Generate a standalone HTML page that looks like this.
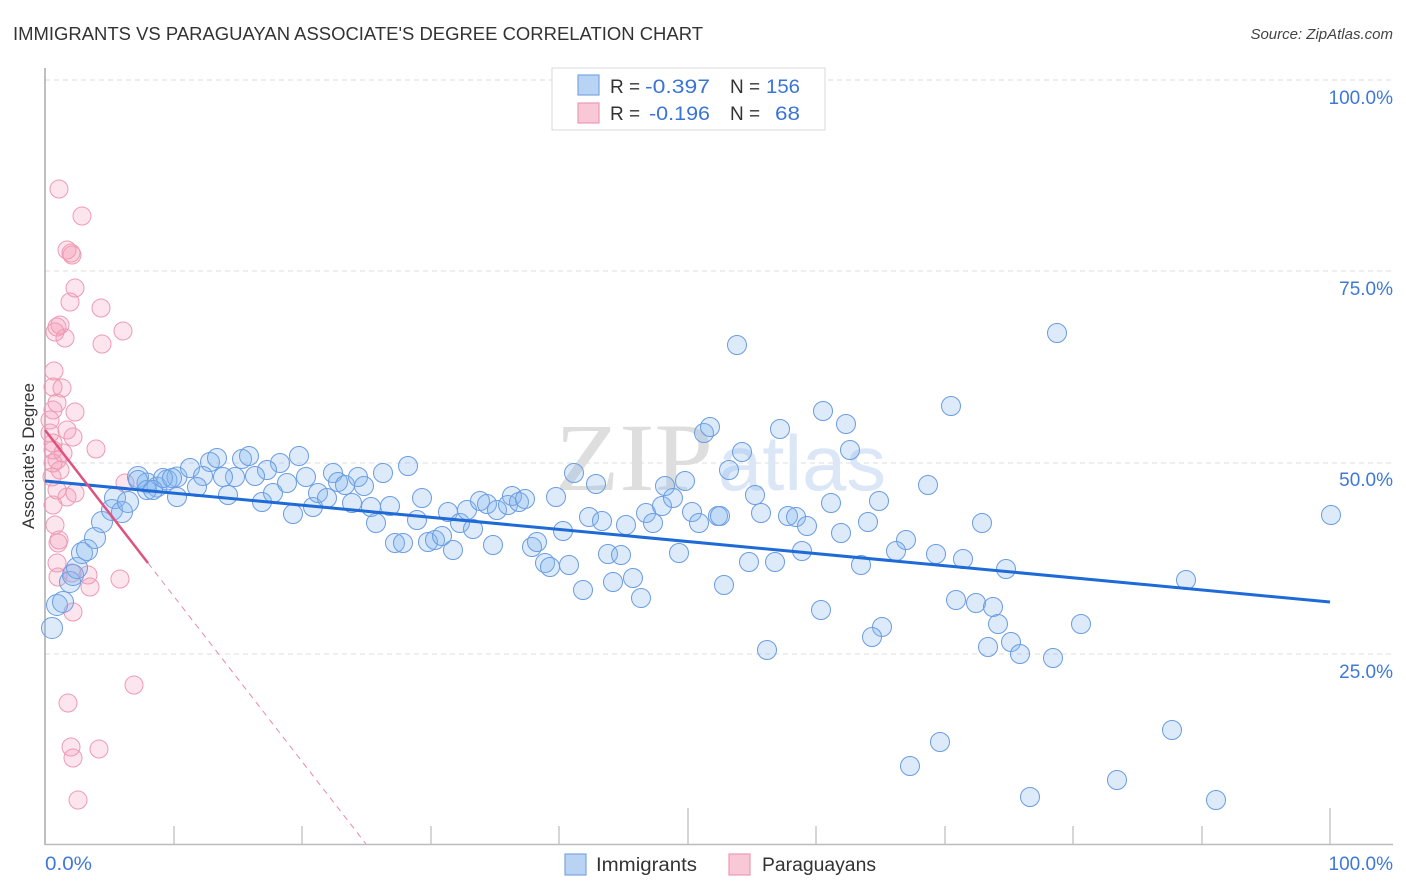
<!DOCTYPE html>
<html><head><meta charset="utf-8"><style>
html,body{margin:0;padding:0;background:#fff;}
svg{display:block;font-family:"Liberation Sans",sans-serif;}
</style></head><body>
<svg width="1406" height="892" viewBox="0 0 1406 892" xmlns="http://www.w3.org/2000/svg">
<rect width="1406" height="892" fill="#fff"/>
<text x="13" y="40" font-size="18" fill="#333" textLength="690" lengthAdjust="spacingAndGlyphs">IMMIGRANTS VS PARAGUAYAN ASSOCIATE'S DEGREE CORRELATION CHART</text>
<text x="1393" y="39" font-size="15" fill="#444" font-style="italic" text-anchor="end">Source: ZipAtlas.com</text>

<!-- gridlines -->
<g stroke="#dcdcdc" stroke-width="1" stroke-dasharray="5,4">
<line x1="45" y1="80" x2="1393" y2="80"/>
<line x1="45" y1="271" x2="1393" y2="271"/>
<line x1="45" y1="463" x2="1393" y2="463"/>
<line x1="45" y1="654" x2="1393" y2="654"/>
</g>
<!-- axes -->
<line x1="45" y1="68" x2="45" y2="845" stroke="#aaa" stroke-width="1.5"/>
<line x1="45" y1="844.5" x2="1393" y2="844.5" stroke="#bbb" stroke-width="1.5"/>
<g stroke="#bbb" stroke-width="1.2">
<line x1="174" y1="826" x2="174" y2="844"/>
<line x1="302" y1="826" x2="302" y2="844"/>
<line x1="431" y1="826" x2="431" y2="844"/>
<line x1="559" y1="826" x2="559" y2="844"/>
<line x1="688" y1="808" x2="688" y2="844"/>
<line x1="816" y1="826" x2="816" y2="844"/>
<line x1="945" y1="826" x2="945" y2="844"/>
<line x1="1073" y1="826" x2="1073" y2="844"/>
<line x1="1202" y1="826" x2="1202" y2="844"/>
<line x1="1330" y1="808" x2="1330" y2="844"/>
</g>

<!-- watermark -->
<text x="555" y="490" font-size="96" fill="#dedede" font-family="Liberation Serif, serif" textLength="158" lengthAdjust="spacingAndGlyphs">ZIP</text>
<text x="718" y="490" font-size="78" fill="#dbe6f6" font-family="Liberation Sans, sans-serif" textLength="168" lengthAdjust="spacingAndGlyphs">atlas</text>

<!-- y labels -->
<g font-size="19" fill="#3f78d8" text-anchor="end">
<text x="1393" y="104">100.0%</text>
<text x="1393" y="295">75.0%</text>
<text x="1393" y="486">50.0%</text>
<text x="1393" y="678">25.0%</text>
<text x="1393" y="870">100.0%</text>
</g>
<text x="45" y="870" font-size="19" fill="#3f78d8" textLength="47" lengthAdjust="spacingAndGlyphs">0.0%</text>
<text transform="translate(34,456) rotate(-90)" font-size="17" fill="#333" text-anchor="middle">Associate's Degree</text>

<!-- pink points -->
<g fill="rgba(244,150,180,0.25)" stroke="#ee9ab5" stroke-width="1">
<circle cx="59" cy="189" r="9"/><circle cx="82" cy="216" r="9"/><circle cx="67" cy="250" r="9"/><circle cx="71" cy="253" r="9"/><circle cx="72" cy="255" r="9"/>
<circle cx="75" cy="288" r="9"/><circle cx="70" cy="302" r="9"/><circle cx="101" cy="308" r="9"/><circle cx="57" cy="327" r="9"/><circle cx="60" cy="325" r="9"/>
<circle cx="55" cy="332" r="9"/><circle cx="65" cy="338" r="9"/><circle cx="123" cy="331" r="9"/><circle cx="102" cy="344" r="9"/><circle cx="54" cy="371" r="9"/>
<circle cx="62" cy="388" r="9"/><circle cx="53" cy="387" r="9"/><circle cx="57" cy="403" r="9"/><circle cx="75" cy="412" r="9"/><circle cx="53" cy="410" r="9"/>
<circle cx="67" cy="430" r="9"/><circle cx="73" cy="437" r="9"/><circle cx="50" cy="433" r="9"/><circle cx="53" cy="450" r="9"/><circle cx="57" cy="460" r="9"/>
<circle cx="96" cy="449" r="9"/><circle cx="53" cy="463" r="9"/><circle cx="63" cy="453" r="9"/><circle cx="52" cy="477" r="9"/><circle cx="57" cy="490" r="9"/>
<circle cx="67" cy="497" r="9"/><circle cx="75" cy="493" r="9"/><circle cx="53" cy="505" r="9"/><circle cx="55" cy="525" r="9"/><circle cx="59" cy="540" r="9"/>
<circle cx="58" cy="543" r="9"/><circle cx="57" cy="563" r="9"/><circle cx="58" cy="577" r="9"/><circle cx="72" cy="573" r="9"/><circle cx="88" cy="575" r="9"/>
<circle cx="90" cy="587" r="9"/><circle cx="73" cy="612" r="9"/><circle cx="120" cy="579" r="9"/><circle cx="125" cy="483" r="9"/><circle cx="68" cy="703" r="9"/>
<circle cx="71" cy="747" r="9"/><circle cx="73" cy="758" r="9"/><circle cx="99" cy="749" r="9"/><circle cx="78" cy="800" r="9"/><circle cx="134" cy="685" r="9"/>
<circle cx="53" cy="443" r="9"/><circle cx="50" cy="420" r="9"/><circle cx="60" cy="470" r="9"/>
</g>

<!-- blue points -->
<g fill="rgba(130,178,238,0.28)" stroke="#6b9de2" stroke-width="1">
<circle cx="52" cy="628" r="10.5"/><circle cx="57" cy="605" r="10.5"/><circle cx="63" cy="602" r="10.5"/><circle cx="70" cy="582" r="10.5"/><circle cx="73" cy="575" r="10.5"/>
<circle cx="77" cy="568" r="10.5"/><circle cx="82" cy="553" r="10.5"/><circle cx="87" cy="550" r="10.5"/><circle cx="95" cy="538" r="10.5"/><circle cx="102" cy="522" r="10.5"/>
<circle cx="112" cy="510" r="10.5"/><circle cx="115" cy="498" r="10.5"/><circle cx="122" cy="512" r="10.5"/><circle cx="128" cy="502" r="10.5"/><circle cx="138" cy="477" r="10.5"/>
<circle cx="147" cy="483" r="10"/><circle cx="157" cy="487" r="10"/><circle cx="167" cy="480" r="10"/><circle cx="177" cy="477" r="10"/>
<circle cx="138" cy="480" r="9.5"/><circle cx="163" cy="478" r="9.5"/><circle cx="172" cy="478" r="9.5"/><circle cx="190" cy="468" r="9.5"/><circle cx="210" cy="462" r="9.5"/>
<circle cx="217" cy="458" r="9.5"/><circle cx="242" cy="459" r="9.5"/><circle cx="249" cy="456" r="9.5"/><circle cx="299" cy="456" r="9.5"/><circle cx="280" cy="463" r="9.5"/>
<circle cx="267" cy="470" r="9.5"/><circle cx="255" cy="476" r="9.5"/><circle cx="235" cy="477" r="9.5"/><circle cx="223" cy="477" r="9.5"/><circle cx="203" cy="476" r="9.5"/>
<circle cx="197" cy="487" r="9.5"/><circle cx="177" cy="497" r="9.5"/><circle cx="228" cy="495" r="9.5"/><circle cx="262" cy="502" r="9.5"/><circle cx="273" cy="493" r="9.5"/>
<circle cx="287" cy="483" r="9.5"/><circle cx="306" cy="477" r="9.5"/><circle cx="293" cy="514" r="9.5"/><circle cx="313" cy="507" r="9.5"/><circle cx="318" cy="493" r="9.5"/>
<circle cx="327" cy="498" r="9.5"/><circle cx="333" cy="473" r="9.5"/><circle cx="338" cy="482" r="9.5"/><circle cx="345" cy="485" r="9.5"/><circle cx="358" cy="477" r="9.5"/>
<circle cx="364" cy="486" r="9.5"/><circle cx="383" cy="473" r="9.5"/><circle cx="408" cy="466" r="9.5"/><circle cx="352" cy="503" r="9.5"/><circle cx="371" cy="507" r="9.5"/>
<circle cx="376" cy="523" r="9.5"/><circle cx="390" cy="506" r="9.5"/><circle cx="422" cy="498" r="9.5"/><circle cx="417" cy="520" r="9.5"/><circle cx="395" cy="543" r="9.5"/>
<circle cx="403" cy="543" r="9.5"/><circle cx="428" cy="542" r="9.5"/><circle cx="435" cy="540" r="9.5"/><circle cx="442" cy="536" r="9.5"/><circle cx="453" cy="550" r="9.5"/>
<circle cx="448" cy="512" r="9.5"/><circle cx="460" cy="523" r="9.5"/><circle cx="467" cy="510" r="9.5"/><circle cx="473" cy="529" r="9.5"/><circle cx="480" cy="501" r="9.5"/>
<circle cx="487" cy="504" r="9.5"/><circle cx="497" cy="510" r="9.5"/><circle cx="493" cy="545" r="9.5"/><circle cx="147" cy="490" r="9.5"/><circle cx="153" cy="490" r="9.5"/>
<circle cx="508" cy="505" r="9.5"/><circle cx="512" cy="496" r="9.5"/><circle cx="519" cy="502" r="9.5"/><circle cx="525" cy="499" r="9.5"/>
<circle cx="556" cy="497" r="9.5"/><circle cx="574" cy="473" r="9.5"/><circle cx="596" cy="484" r="9.5"/><circle cx="589" cy="517" r="9.5"/><circle cx="602" cy="521" r="9.5"/>
<circle cx="626" cy="525" r="9.5"/><circle cx="646" cy="513" r="9.5"/><circle cx="653" cy="523" r="9.5"/><circle cx="662" cy="506" r="9.5"/><circle cx="665" cy="486" r="9.5"/>
<circle cx="673" cy="498" r="9.5"/><circle cx="685" cy="481" r="9.5"/><circle cx="704" cy="433" r="9.5"/><circle cx="710" cy="427" r="9.5"/><circle cx="692" cy="512" r="9.5"/>
<circle cx="699" cy="523" r="9.5"/><circle cx="718" cy="516" r="9.5"/><circle cx="729" cy="470" r="9.5"/><circle cx="742" cy="452" r="9.5"/><circle cx="780" cy="429" r="9.5"/>
<circle cx="846" cy="424" r="9.5"/><circle cx="850" cy="450" r="9.5"/><circle cx="755" cy="495" r="9.5"/><circle cx="761" cy="513" r="9.5"/><circle cx="788" cy="516" r="9.5"/>
<circle cx="796" cy="517" r="9.5"/><circle cx="807" cy="526" r="9.5"/><circle cx="831" cy="503" r="9.5"/><circle cx="841" cy="533" r="9.5"/><circle cx="868" cy="522" r="9.5"/>
<circle cx="879" cy="501" r="9.5"/><circle cx="532" cy="547" r="9.5"/><circle cx="537" cy="542" r="9.5"/><circle cx="545" cy="563" r="9.5"/><circle cx="550" cy="567" r="9.5"/>
<circle cx="569" cy="565" r="9.5"/><circle cx="583" cy="590" r="9.5"/><circle cx="608" cy="554" r="9.5"/><circle cx="621" cy="555" r="9.5"/><circle cx="633" cy="578" r="9.5"/>
<circle cx="613" cy="582" r="9.5"/><circle cx="641" cy="598" r="9.5"/><circle cx="679" cy="553" r="9.5"/><circle cx="563" cy="531" r="9.5"/><circle cx="724" cy="585" r="9.5"/>
<circle cx="749" cy="562" r="9.5"/><circle cx="775" cy="562" r="9.5"/><circle cx="802" cy="551" r="9.5"/><circle cx="821" cy="610" r="9.5"/><circle cx="861" cy="565" r="9.5"/>
<circle cx="737" cy="345" r="9.5"/><circle cx="823" cy="411" r="9.5"/><circle cx="1057" cy="333" r="9.5"/><circle cx="951" cy="406" r="9.5"/><circle cx="928" cy="485" r="9.5"/>
<circle cx="906" cy="540" r="9.5"/><circle cx="896" cy="551" r="9.5"/><circle cx="936" cy="554" r="9.5"/><circle cx="963" cy="559" r="9.5"/><circle cx="982" cy="523" r="9.5"/>
<circle cx="1006" cy="569" r="9.5"/><circle cx="956" cy="600" r="9.5"/><circle cx="976" cy="603" r="9.5"/><circle cx="993" cy="607" r="9.5"/><circle cx="998" cy="624" r="9.5"/>
<circle cx="882" cy="627" r="9.5"/><circle cx="872" cy="637" r="9.5"/><circle cx="1081" cy="624" r="9.5"/><circle cx="767" cy="650" r="9.5"/><circle cx="988" cy="647" r="9.5"/>
<circle cx="1011" cy="642" r="9.5"/><circle cx="1020" cy="654" r="9.5"/><circle cx="1053" cy="658" r="9.5"/><circle cx="1331" cy="515" r="9.5"/><circle cx="1186" cy="580" r="9.5"/>
<circle cx="1172" cy="730" r="9.5"/><circle cx="1117" cy="780" r="9.5"/><circle cx="1216" cy="800" r="9.5"/><circle cx="910" cy="766" r="9.5"/><circle cx="940" cy="742" r="9.5"/>
<circle cx="1030" cy="797" r="9.5"/><circle cx="720" cy="516" r="9.5"/>
</g>

<!-- regression lines -->
<line x1="45" y1="481" x2="1330" y2="602" stroke="#1e6ad6" stroke-width="3"/>
<line x1="45" y1="430" x2="148" y2="563" stroke="#e0527e" stroke-width="2.5"/>
<line x1="148" y1="563" x2="366" y2="844" stroke="#e88aa8" stroke-width="1" stroke-dasharray="6,5"/>

<!-- top legend -->
<rect x="552" y="68" width="273" height="62" fill="#fff" stroke="#d8d8d8" stroke-width="1"/>
<rect x="578" y="75" width="21" height="20" fill="#b9d3f4" stroke="#7aa6e0" stroke-width="1.2"/>
<rect x="578" y="103" width="21" height="20" fill="#f9c8d7" stroke="#ee9ab5" stroke-width="1.2"/>
<g font-size="19">
<text x="610" y="93" fill="#333">R = </text>
<text x="645" y="93" fill="#3a74d6" textLength="65" lengthAdjust="spacingAndGlyphs">-0.397</text>
<text x="730" y="93" fill="#333">N = </text>
<text x="766" y="93" fill="#3a74d6" textLength="34" lengthAdjust="spacingAndGlyphs">156</text>
<text x="610" y="120" fill="#333">R = </text>
<text x="649" y="120" fill="#3a74d6" textLength="61" lengthAdjust="spacingAndGlyphs">-0.196</text>
<text x="730" y="120" fill="#333">N = </text>
<text x="775" y="120" fill="#3a74d6" textLength="25" lengthAdjust="spacingAndGlyphs">68</text>
</g>

<!-- bottom legend -->
<rect x="565" y="854" width="21" height="21" fill="#b9d3f4" stroke="#7aa6e0" stroke-width="1.2"/>
<text x="596" y="871" font-size="19" fill="#333" textLength="101" lengthAdjust="spacingAndGlyphs">Immigrants</text>
<rect x="729" y="854" width="21" height="21" fill="#f9c8d7" stroke="#ee9ab5" stroke-width="1.2"/>
<text x="762" y="871" font-size="19" fill="#333" textLength="114" lengthAdjust="spacingAndGlyphs">Paraguayans</text>
</svg>
</body></html>
